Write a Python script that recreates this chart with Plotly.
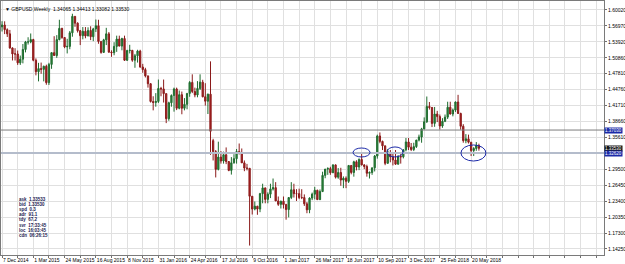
import pandas as pd
import plotly.graph_objects as go

# ---------------- data (GBPUSD weekly) ----------------
start_week = "2014-12-07"
opens = [1.5680,1.5715,1.5625,1.5545,1.5275,1.5160,1.5160,1.4990,1.5060,1.5245,1.5390,1.5390,1.5435,1.5040,1.4820,1.4880,1.4865,1.4925,1.4610,1.4960,
         1.5185,1.5130,1.5435,1.5650,1.5475,1.5295,1.5305,1.5565,1.5880,1.5750,1.5605,1.5510,1.5595,1.5505,1.5610,1.5490,1.5640,1.5700,1.5400,1.5190,
         1.5430,1.5545,1.5195,1.5185,1.5305,1.5445,1.5310,1.5455,1.5040,1.5225,1.5230,1.5040,1.5125,1.5215,1.4910,1.4860,1.4740,1.4590,1.4250,1.4230,
         1.4250,1.4500,1.4490,1.4400,1.3920,1.4225,1.4365,1.4490,1.4120,1.4380,1.4120,1.4195,1.4405,1.4615,1.4440,1.4375,1.4500,1.4620,1.4340,1.4255,
         1.4390,1.3500,1.3290,1.2950,1.3185,1.3110,1.3230,1.3100,1.2930,1.3075,1.3155,1.3290,1.3265,1.3075,1.2975,1.2970,1.2435,1.2190,1.2245,1.2190,
         1.2485,1.2595,1.2375,1.2475,1.2575,1.2600,1.2345,1.2280,1.2340,1.2275,1.2180,1.2410,1.2560,1.2485,1.2485,1.2410,1.2410,1.2290,1.2175,1.2400,
         1.2475,1.2550,1.2370,1.2525,1.2835,1.2955,1.2965,1.2885,1.3035,1.2800,1.2890,1.2745,1.2780,1.2720,1.3025,1.2890,1.3095,1.2995,1.3140,1.3035,
         1.3005,1.2875,1.2890,1.2980,1.3205,1.3590,1.3485,1.3400,1.3065,1.3260,1.3190,1.3130,1.3050,1.3195,1.3190,1.3325,1.3475,1.3375,1.3330,1.3385,
         1.3510,1.3570,1.3725,1.3860,1.4155,1.4135,1.3830,1.4010,1.3960,1.3780,1.3870,1.3950,1.4140,1.4010,1.4085,1.4240,1.4020,1.3775,1.3500,1.3535,
         1.3470,1.3310,1.3350,1.34065]
highs = [1.5787,1.5785,1.5650,1.5620,1.5285,1.5270,1.5225,1.5130,1.5350,1.5410,1.5480,1.5552,1.5450,1.5075,1.4990,1.4995,1.4935,1.4955,1.4990,1.5190,
         1.5500,1.5520,1.5815,1.5660,1.5480,1.5450,1.5600,1.5930,1.5880,1.5765,1.5620,1.5675,1.5675,1.5670,1.5690,1.5660,1.5820,1.5815,1.5400,1.5450,
         1.5660,1.5580,1.5230,1.5385,1.5510,1.5510,1.5470,1.5510,1.5240,1.5335,1.5235,1.5160,1.5240,1.5240,1.4970,1.4895,1.4745,1.4600,1.4350,1.4410,
         1.4670,1.4530,1.4670,1.4405,1.4245,1.4385,1.4515,1.4515,1.4460,1.4440,1.4315,1.4405,1.4640,1.4770,1.4515,1.4640,1.4770,1.4665,1.4600,1.4400,
         1.5018,1.3535,1.3320,1.3480,1.3300,1.3290,1.3370,1.3110,1.3185,1.3240,1.3340,1.3445,1.3350,1.3120,1.3055,1.2975,1.2440,1.2335,1.2250,1.2500,
         1.2675,1.2600,1.2510,1.2675,1.2775,1.2705,1.2430,1.2350,1.2430,1.2290,1.2415,1.2705,1.2675,1.2570,1.2580,1.2570,1.2470,1.2325,1.2415,1.2505,
         1.2615,1.2560,1.2565,1.2905,1.2950,1.2990,1.3000,1.3047,1.3045,1.2975,1.2980,1.2815,1.2815,1.3030,1.3030,1.3115,1.3125,1.3160,1.3268,1.3050,
         1.3040,1.2910,1.2980,1.3225,1.3615,1.3657,1.3500,1.3405,1.3340,1.3320,1.3255,1.3320,1.3225,1.3265,1.3335,1.3550,1.3550,1.3455,1.3460,1.3515,
         1.3615,1.3745,1.3945,1.4345,1.4240,1.4145,1.4145,1.4070,1.4000,1.3930,1.4000,1.4245,1.4245,1.4115,1.4250,1.4377,1.4035,1.3815,1.3625,1.3615,
         1.3470,1.3375,1.3473,1.34413]
lows = [1.5590,1.5540,1.5485,1.5260,1.5035,1.5035,1.4950,1.4950,1.4980,1.5190,1.5340,1.5365,1.5020,1.4750,1.4635,1.4780,1.4635,1.4570,1.4565,1.4875,
        1.5135,1.5085,1.5420,1.5450,1.5270,1.5170,1.5250,1.5490,1.5680,1.5570,1.5330,1.5440,1.5460,1.5500,1.5425,1.5405,1.5580,1.5355,1.5165,1.5185,
        1.5330,1.5180,1.5105,1.5135,1.5200,1.5335,1.5230,1.5025,1.5025,1.5170,1.5010,1.4895,1.4995,1.4895,1.4800,1.4710,1.4515,1.4230,1.4080,1.4150,
        1.4220,1.4350,1.4230,1.3835,1.3880,1.4150,1.4055,1.4085,1.4100,1.4005,1.4080,1.4100,1.4340,1.4410,1.4330,1.4330,1.4470,1.4330,1.4170,1.4010,
        1.3228,1.3120,1.2795,1.2930,1.3060,1.3060,1.3050,1.2915,1.2850,1.3060,1.3060,1.3235,1.3090,1.2915,1.2930,1.1491,1.2085,1.2165,1.2080,1.2130,
        1.2300,1.2300,1.2300,1.2400,1.2545,1.2350,1.2250,1.2200,1.2200,1.1986,1.2030,1.2380,1.2410,1.2345,1.2380,1.2380,1.2250,1.2110,1.2110,1.2360,
        1.2375,1.2365,1.2365,1.2515,1.2780,1.2845,1.2845,1.2880,1.2775,1.2770,1.2636,1.2590,1.2590,1.2690,1.2855,1.2810,1.2930,1.2935,1.3025,1.2955,
        1.2810,1.2775,1.2845,1.2910,1.3155,1.3450,1.3320,1.3030,1.3065,1.3085,1.3025,1.3035,1.3040,1.3060,1.3160,1.3295,1.3320,1.3300,1.3300,1.3360,
        1.3485,1.3460,1.3715,1.3840,1.4095,1.3760,1.3765,1.3855,1.3712,1.3745,1.3855,1.3915,1.4000,1.3965,1.4050,1.4010,1.3710,1.3460,1.3450,1.3445,
        1.3205,1.3205,1.3305,1.33082]
closes = [1.5715,1.5625,1.5545,1.5275,1.5160,1.5160,1.4990,1.5060,1.5245,1.5390,1.5390,1.5435,1.5040,1.4820,1.4880,1.4865,1.4925,1.4610,1.4960,1.5185,
          1.5130,1.5435,1.5650,1.5475,1.5295,1.5305,1.5565,1.5880,1.5750,1.5605,1.5510,1.5595,1.5505,1.5610,1.5490,1.5640,1.5700,1.5400,1.5190,1.5430,
          1.5545,1.5195,1.5185,1.5305,1.5445,1.5310,1.5455,1.5040,1.5225,1.5230,1.5040,1.5125,1.5215,1.4910,1.4860,1.4740,1.4590,1.4250,1.4230,1.4250,
          1.4500,1.4490,1.4400,1.3920,1.4225,1.4365,1.4490,1.4120,1.4380,1.4120,1.4195,1.4405,1.4615,1.4440,1.4375,1.4500,1.4620,1.4340,1.4255,1.4390,
          1.3680,1.3290,1.2950,1.3185,1.3110,1.3230,1.3100,1.2930,1.3075,1.3155,1.3290,1.3265,1.3075,1.2975,1.2970,1.2435,1.2190,1.2245,1.2190,1.2485,
          1.2595,1.2375,1.2475,1.2575,1.2600,1.2345,1.2280,1.2340,1.2275,1.2180,1.2410,1.2560,1.2485,1.2485,1.2410,1.2410,1.2290,1.2175,1.2400,1.2475,
          1.2550,1.2370,1.2525,1.2835,1.2955,1.2965,1.2885,1.3035,1.2800,1.2890,1.2745,1.2780,1.2720,1.3025,1.2890,1.3095,1.2995,1.3140,1.3035,1.3005,
          1.2875,1.2890,1.2980,1.3205,1.3590,1.3485,1.3400,1.3065,1.3285,1.3190,1.3130,1.3050,1.3195,1.3190,1.3325,1.3475,1.3375,1.3330,1.3385,1.3510,
          1.3570,1.3725,1.3860,1.4155,1.4135,1.3830,1.4010,1.3960,1.3780,1.3870,1.3950,1.4140,1.4010,1.4085,1.4240,1.4020,1.3775,1.3500,1.3535,1.3470,
          1.3310,1.3350,1.3410,1.33530]

price_ticks = [1.60020,1.56970,1.53920,1.50860,1.47810,1.44760,1.41710,1.38660,1.35610,1.32560,1.29500,1.26450,1.23400,1.20350,1.17300,1.14250]
date_labels = ["7 Dec 2014","1 Mar 2015","24 May 2015","16 Aug 2015","8 Nov 2015","31 Jan 2016","24 Apr 2016",
               "17 Jul 2016","9 Oct 2016","1 Jan 2017","26 Mar 2017","18 Jun 2017","10 Sep 2017","3 Dec 2017",
               "25 Feb 2018","20 May 2018"]
hlines = {"resistance": 1.37030, "support": 1.32620}
bid, ask = 1.33530, 1.33533
info_lines = ["ask  1.33533", "bid  1.33530", "spd  0.3", "adr  91.1", "tdy  67.2",
              "svr  17:33:45", "loc  16:03:45", "cdn  06:26:15"]
# marked zones: (first week index, last week index, low price, high price)
ellipses = [(134.7, 141.2, 1.3187, 1.3359), (147.7, 153.9, 1.3187, 1.3379), (176.1, 185.7, 1.3110, 1.3417)]

# ---------------- figure ----------------
n = len(closes)
dates = pd.date_range(start_week, periods=n, freq="7D")
t0 = pd.Timestamp(start_week)
wk = pd.Timedelta(days=7)

def wdate(w):
    return t0 + wk * w

fig = go.Figure()
fig.add_trace(go.Candlestick(
    x=dates, open=opens, high=highs, low=lows, close=closes,
    increasing=dict(line=dict(color="#1e6b2e", width=1), fillcolor="#2f8a3c"),
    decreasing=dict(line=dict(color="#8b1a1a", width=1), fillcolor="#b02323"),
    whiskerwidth=0, showlegend=False, hoverinfo="skip"))

# x grid every 6 weeks; labels every 12 weeks
grid_vals, grid_text = [], []
for k in range(0, 40):
    grid_vals.append(wdate(6 * k))
    j = k // 2
    grid_text.append(date_labels[j] if (k % 2 == 0 and j < len(date_labels)) else "")

FONT = "Liberation Sans, Arial, sans-serif"
font_small = dict(family=FONT, size=5, color="#000000")

fig.update_layout(
    width=625, height=264, margin=dict(l=1, r=21, t=1, b=9, autoexpand=False),
    paper_bgcolor="white", plot_bgcolor="white",
    xaxis=dict(range=[wdate(-0.4), wdate(231)], rangeslider=dict(visible=False),
               tickmode="array", tickvals=grid_vals, ticktext=grid_text, tickangle=0, automargin=False,
               ticklabelposition="outside right", ticks="outside", ticklen=2, tickcolor="#707070",
               showgrid=True, gridcolor="#e0e0e0", gridwidth=1,
               showline=True, linecolor="#7a7a7a", linewidth=1, mirror=True,
               tickfont=font_small, zeroline=False),
    yaxis=dict(range=[1.1310, 1.6174], side="right", automargin=False,
               tickmode="array", tickvals=price_ticks,
               ticktext=[("" if abs(v - 1.32560) < 1e-6 else f"{v:.5f}") for v in price_ticks],
               ticks="outside", ticklen=2, tickcolor="#707070",
               showgrid=True, gridcolor="#e0e0e0", gridwidth=1,
               showline=True, linecolor="#7a7a7a", linewidth=1, mirror=True,
               tickfont=font_small, zeroline=False),
)

# horizontal lines
fig.add_hline(y=hlines["resistance"], line=dict(color="#7c7c7c", width=1))
fig.add_hline(y=hlines["support"], line=dict(color="#b4bccb", width=2))

# ellipses
for a, b, lo, hi in ellipses:
    fig.add_shape(type="circle", xref="x", yref="y", x0=wdate(a), x1=wdate(b), y0=lo, y1=hi,
                  line=dict(color="#1c2aa8", width=1))

# price labels on the axis
for val, bg in [(hlines["resistance"], "#1c2aa8"), (bid, "#111111"), (hlines["support"], "#1c2aa8")]:
    fig.add_annotation(xref="paper", x=1.0, yref="y", y=val, text=f"{val:.5f}", showarrow=False,
                       xanchor="left", yanchor="middle", bgcolor=bg, borderpad=0, height=5,
                       font=dict(family=FONT, size=4.5, color="white"))

# title
fig.add_annotation(xref="paper", yref="paper", x=0.003, y=0.99, xanchor="left", yanchor="top",
                   text="▼ GBPUSD,Weekly  1.34065 1.34413 1.33082 1.33530", showarrow=False,
                   font=dict(family=FONT, size=5, color="#000000"))

# info panel
for i, line in enumerate(info_lines):
    fig.add_annotation(xref="paper", yref="paper", x=0.027, y=0.22 - i * 0.0205, xanchor="left",
                       yanchor="middle", text=f"<b>{line}</b>", showarrow=False,
                       font=dict(family=FONT, size=4.5, color="#1a1a50"))

fig.write_html("out.html")
